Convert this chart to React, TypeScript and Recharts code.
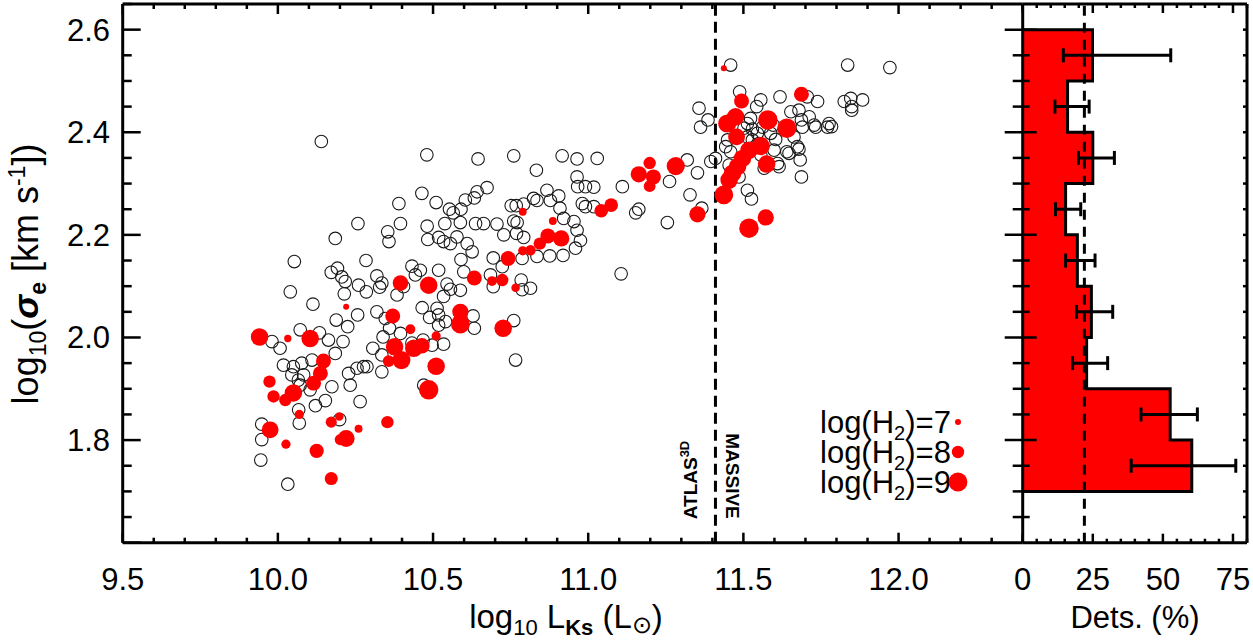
import { Area, ComposedChart, ErrorBar, ReferenceLine, Scatter, ScatterChart, XAxis, YAxis } from "recharts";

const W = 1253;
const H = 642;
// plot edges in px
const TOP = 4;
const BOTTOM = 542.7;
const LEFT = 122.7;
const SPLIT = 1022.7;
const RIGHT = 1247;
const X_AXIS_H = 60;
const Y_AXIS_W = 110;
const HY_W = 10;

const FONT = "'Liberation Sans', Arial, sans-serif";
const INK = "#000";
const RED = "#ff0000";

// log10 L_Ks, log10 sigma_e for galaxies without CO detection
const NONDET: [number, number][] = [
  [10.14, 2.382], [10.48, 2.356], [10.645, 2.348], [10.39, 2.261], [10.464, 2.281], [10.51, 2.263],
  [10.553, 2.25], [10.565, 2.243], [10.59, 2.25], [10.604, 2.268], [10.633, 2.272], [10.642, 2.284],
  [10.674, 2.292], [10.258, 2.222], [10.395, 2.222], [10.481, 2.217], [10.538, 2.222], [10.588, 2.224],
  [10.637, 2.222], [10.354, 2.206], [10.358, 2.187], [10.185, 2.193], [10.483, 2.191], [10.518, 2.195],
  [10.534, 2.187], [10.556, 2.183], [10.577, 2.196], [10.61, 2.183], [10.626, 2.167], [10.59, 2.152],
  [10.599, 2.128], [10.053, 2.148], [10.284, 2.15], [10.172, 2.127], [10.192, 2.135], [10.206, 2.118],
  [10.217, 2.109], [10.26, 2.102], [10.285, 2.089], [10.319, 2.12], [10.328, 2.098], [10.335, 2.106],
  [10.432, 2.139], [10.459, 2.131], [10.443, 2.122], [10.518, 2.131], [10.545, 2.104], [10.556, 2.094],
  [10.384, 2.083], [10.405, 2.099], [10.534, 2.08], [10.588, 2.092], [10.04, 2.089], [10.214, 2.085],
  [10.113, 2.065], [10.465, 2.058], [10.513, 2.057], [10.319, 2.05], [10.257, 2.044], [10.188, 2.034],
  [10.225, 2.021], [10.346, 2.037], [10.36, 2.018], [10.395, 2.008], [10.489, 2.039], [10.518, 2.044],
  [10.518, 2.024], [10.54, 2.031], [10.629, 2.042], [10.633, 2.018], [10.072, 2.015], [10.134, 2.009],
  [10.163, 1.995], [10.007, 1.979], [9.981, 1.992], [10.21, 1.992], [10.306, 1.979], [10.339, 2.001],
  [10.335, 1.966], [10.432, 1.989], [10.468, 1.995], [10.497, 1.985], [10.534, 1.987], [10.185, 1.969],
  [10.018, 1.946], [10.05, 1.943], [10.077, 1.95], [10.11, 1.956], [10.045, 1.927], [10.066, 1.917],
  [10.083, 1.927], [10.072, 1.907], [10.174, 1.904], [10.228, 1.93], [10.255, 1.94], [10.276, 1.943],
  [10.287, 1.943], [10.335, 1.933], [10.233, 1.907], [10.104, 1.898], [10.265, 1.875], [10.47, 1.907],
  [10.121, 1.867], [10.153, 1.877], [10.067, 1.859], [10.069, 1.833], [9.948, 1.831], [9.948, 1.801],
  [9.945, 1.761], [10.032, 1.714], [10.199, 1.84],
  [11.357, 2.447], [11.386, 2.424], [11.362, 2.41], [11.395, 2.343], [11.319, 2.346], [11.352, 2.321],
  [11.262, 2.304], [11.328, 2.278], [11.366, 2.252], [11.255, 2.224], [11.163, 2.25], [11.153, 2.243],
  [11.11, 2.294], [11.106, 2.124], [10.76, 2.354], [10.833, 2.326], [10.916, 2.354], [10.964, 2.348],
  [11.029, 2.349], [10.964, 2.313], [10.966, 2.294], [10.991, 2.294], [11.018, 2.293], [10.867, 2.287],
  [10.824, 2.271], [10.835, 2.267], [10.905, 2.276], [10.878, 2.267], [10.752, 2.257], [10.768, 2.257],
  [10.792, 2.26], [10.909, 2.252], [10.981, 2.261], [10.991, 2.255], [11.018, 2.255], [10.76, 2.227],
  [10.771, 2.224], [10.921, 2.232], [10.954, 2.226], [10.663, 2.222], [10.706, 2.221], [10.728, 2.2],
  [10.769, 2.203], [10.792, 2.195], [10.964, 2.209], [10.975, 2.189], [10.959, 2.174], [10.835, 2.158],
  [10.876, 2.159], [10.919, 2.16], [10.787, 2.154], [10.694, 2.155], [10.723, 2.138], [10.685, 2.122],
  [10.694, 2.099], [10.784, 2.112], [10.787, 2.093], [10.814, 2.096], [10.76, 2.033], [10.766, 1.956],
  [11.459, 2.531], [11.836, 2.531], [11.972, 2.526], [11.488, 2.479], [11.618, 2.469], [11.556, 2.463],
  [11.543, 2.45], [11.706, 2.469], [11.739, 2.46], [11.825, 2.46], [11.846, 2.466], [11.884, 2.463],
  [11.849, 2.45], [11.849, 2.443], [11.523, 2.427], [11.513, 2.417], [11.502, 2.408], [11.529, 2.406],
  [11.545, 2.398], [11.653, 2.44], [11.679, 2.443], [11.712, 2.43], [11.687, 2.424], [11.728, 2.414],
  [11.733, 2.41], [11.776, 2.417], [11.771, 2.41], [11.784, 2.411], [11.69, 2.41], [11.663, 2.391],
  [11.674, 2.372], [11.64, 2.362], [11.647, 2.359], [11.679, 2.367], [11.683, 2.346], [11.687, 2.313],
  [11.513, 2.287], [11.526, 2.27], [11.61, 2.339], [11.615, 2.333], [11.599, 2.365], [11.567, 2.33],
  [11.556, 2.356], [11.449, 2.385], [11.443, 2.372], [11.459, 2.362], [11.454, 2.336], [11.47, 2.32],
  [11.486, 2.313], [11.41, 2.349], [11.513, 2.391], [11.529, 2.385], [11.562, 2.41], [11.588, 2.398],
  [11.604, 2.386], [11.55, 2.378], [11.596, 2.414],
];

// log10 L_Ks, log10 sigma_e, log10 M(H2) for CO detections
const DET: [number, number, number][] = [
  [9.941, 2.001, 8.8], [10.032, 1.998, 7.2], [10.104, 1.998, 8.8], [10.22, 2.06, 7.0],
  [10.395, 2.106, 8.5], [10.486, 2.102, 8.8], [10.633, 2.116, 8.4], [10.37, 2.042, 8.4],
  [10.427, 2.016, 7.6], [10.51, 2.003, 7.5], [10.588, 2.05, 8.6], [10.588, 2.026, 9.0],
  [10.376, 1.982, 8.8], [10.438, 1.979, 8.8], [10.464, 1.984, 8.5], [10.398, 1.956, 8.9],
  [10.357, 1.954, 7.9], [10.51, 1.944, 8.8], [10.486, 1.898, 9.1], [10.147, 1.954, 8.4],
  [10.137, 1.93, 8.4], [10.115, 1.911, 8.4], [9.973, 1.914, 8.0], [10.05, 1.892, 8.8],
  [9.986, 1.885, 8.0], [10.024, 1.878, 8.0], [10.069, 1.85, 7.5], [9.975, 1.82, 8.7],
  [10.172, 1.835, 7.8], [10.198, 1.846, 7.4], [10.22, 1.803, 8.7], [10.201, 1.801, 7.8],
  [10.26, 1.822, 7.3], [10.353, 1.835, 8.0], [10.026, 1.792, 7.5], [10.125, 1.779, 8.3],
  [10.172, 1.725, 8.1],
  [11.437, 2.525, 7.0], [11.198, 2.34, 8.0], [11.163, 2.318, 8.6], [11.21, 2.313, 8.4],
  [11.198, 2.295, 7.9], [11.282, 2.334, 8.9], [11.352, 2.24, 8.6], [11.074, 2.258, 8.2],
  [11.042, 2.247, 8.2], [10.789, 2.245, 7.3], [10.886, 2.227, 7.3], [10.87, 2.198, 8.4],
  [10.913, 2.193, 8.6], [10.844, 2.183, 8.0], [10.814, 2.17, 7.7], [10.789, 2.169, 7.5],
  [10.742, 2.154, 8.4], [10.69, 2.11, 7.6], [10.723, 2.112, 8.0], [10.766, 2.097, 7.4],
  [10.726, 2.018, 8.8],
  [11.494, 2.461, 8.4], [11.687, 2.474, 8.4], [11.448, 2.417, 8.9], [11.475, 2.43, 8.8],
  [11.478, 2.391, 8.7], [11.579, 2.424, 9.1], [11.64, 2.408, 9.1], [11.556, 2.373, 8.9],
  [11.518, 2.365, 8.8], [11.497, 2.349, 8.8], [11.481, 2.333, 8.8], [11.465, 2.32, 8.8],
  [11.454, 2.307, 8.8], [11.575, 2.338, 8.8], [11.437, 2.278, 9.0], [11.518, 2.213, 9.1],
  [11.572, 2.234, 8.6],
];

const LEGEND_H2 = [7, 8, 9];
const SAMPLE_SPLIT = 11.41; // ATLAS3D / MASSIVE boundary in log L_Ks

// detection-rate histogram in sigma bins
const BIN_EDGES = [1.7, 1.8, 1.9, 2.0, 2.1, 2.2, 2.3, 2.4, 2.5, 2.6];
const BIN_PCT = [60.3, 52.6, 22.8, 24.5, 19.5, 15.3, 25.0, 16.0, 24.9];
const BIN_LO = [38.7, 42.2, 17.8, 19.2, 15.3, 11.7, 19.9, 11.5, 14.5];
const BIN_HI = [76.0, 62.3, 30.3, 32.1, 25.8, 20.7, 32.7, 23.7, 52.8];
const MEAN_RATE = 22;

const MAIN_X_LABELS = [9.5, 10, 10.5, 11, 11.5, 12];
const Y_LABELS = [1.8, 2.0, 2.2, 2.4, 2.6];
const Y_MAJOR = [1.6, ...Y_LABELS];
const HIST_X_LABELS = [0, 25, 50, 75];

const steps = (lo: number, hi: number, step: number) =>
  Array.from({ length: Math.round((hi - lo) / step) + 1 }, (_, i) => +(lo + i * step).toFixed(3));
const has = (list: number[], v: number) => list.some((l) => Math.abs(l - v) < 1e-6);

const MAIN_X_TICKS = steps(9.5, 12.4, 0.1);
const Y_TICKS = steps(1.6, 2.65, 0.05);
const HIST_X_TICKS = steps(0, 80, 5);

const nondetRows = NONDET.map(([x, y]) => ({ x, y }));
const detRows = DET.map(([x, y, h2]) => ({ x, y, h2 }));

// stepAfter: each row closes the bin that ends at its edge
const stepRows = [
  { sigma: BIN_EDGES[0], pct: 0 },
  ...BIN_PCT.map((pct, i) => ({ sigma: BIN_EDGES[i + 1], pct })),
  { sigma: BIN_EDGES[BIN_EDGES.length - 1], pct: 0 },
];
const errRows = BIN_PCT.map((pct, i) => ({
  sigma: +((BIN_EDGES[i] + BIN_EDGES[i + 1]) / 2).toFixed(3),
  pct,
  err: [pct - BIN_LO[i], BIN_HI[i] - pct],
}));

const dotRadius = (h2: number) => 3 + (h2 - 7) * 3.2;

function MainXTick({ payload }: any) {
  const x = payload.coordinate;
  const v = payload.value;
  const major = has(MAIN_X_LABELS, v);
  const len = major ? 10 : 5;
  return (
    <g>
      <line x1={x} x2={x} y1={BOTTOM} y2={BOTTOM - len} stroke={INK} strokeWidth={2.5} />
      <line x1={x} x2={x} y1={TOP} y2={TOP + len} stroke={INK} strokeWidth={2.5} />
      {major && (
        <text x={x} y={590} textAnchor="middle" fontSize={31} fontFamily={FONT} fill={INK}>
          {v.toFixed(1)}
        </text>
      )}
    </g>
  );
}

function MainYTick({ payload }: any) {
  const y = payload.coordinate;
  const v = payload.value;
  const len = has(Y_MAJOR, v) ? 18 : 9;
  return (
    <g>
      <line x1={LEFT} x2={LEFT + len} y1={y} y2={y} stroke={INK} strokeWidth={2.5} />
      {has(Y_LABELS, v) && (
        <text x={110} y={y + 11} textAnchor="end" fontSize={31} fontFamily={FONT} fill={INK}>
          {v.toFixed(1)}
        </text>
      )}
    </g>
  );
}

function HistXTick({ payload }: any) {
  const x = payload.coordinate;
  const v = payload.value;
  const major = has(HIST_X_LABELS, v);
  const len = major ? 9 : 4;
  return (
    <g>
      <line x1={x} x2={x} y1={BOTTOM} y2={BOTTOM - len} stroke={INK} strokeWidth={2.5} />
      <line x1={x} x2={x} y1={TOP} y2={TOP + len} stroke={INK} strokeWidth={2.5} />
      {major && (
        <text x={x} y={590} textAnchor="middle" fontSize={31} fontFamily={FONT} fill={INK}>
          {v}
        </text>
      )}
    </g>
  );
}

// ticks cross the shared axis between the two panels
function HistYTick({ payload }: any) {
  const y = payload.coordinate;
  const v = payload.value;
  if (v < 1.61 || v > 2.64) return <g />;
  const major = has(Y_MAJOR, v);
  return (
    <g>
      <line x1={SPLIT - (major ? 18 : 10)} x2={SPLIT + (major ? 14 : 7)} y1={y} y2={y} stroke={INK} strokeWidth={2.5} />
      <line x1={RIGHT - 4} x2={RIGHT} y1={y} y2={y} stroke={INK} strokeWidth={2.5} />
    </g>
  );
}

const xTitle = () => (
  <text x={566} y={628} textAnchor="middle" fontSize={33} fontFamily={FONT} fill={INK}>
    log<tspan dy={7} fontSize={22}>10</tspan>
    <tspan dy={-7}> L</tspan>
    <tspan dy={7} fontSize={22} fontWeight="bold">Ks</tspan>
    <tspan dy={-7}> (L</tspan>
    <tspan dy={5} fontSize={24}>⊙</tspan>
    <tspan dy={-5}>)</tspan>
  </text>
);

const yTitle = () => (
  <text transform="translate(38, 274) rotate(-90)" textAnchor="middle" fontSize={36} fontFamily={FONT} fill={INK}>
    log<tspan dy={8} fontSize={23}>10</tspan>
    <tspan dy={-8}>(</tspan>
    <tspan fontWeight="bold" fontStyle="italic">σ</tspan>
    <tspan dy={8} fontSize={23} fontWeight="bold">e</tspan>
    <tspan dy={-8}> [km s</tspan>
    <tspan dy={-13} fontSize={23}>-1</tspan>
    <tspan dy={13}>])</tspan>
  </text>
);

const histTitle = () => (
  <text x={1135} y={628} textAnchor="middle" fontSize={31} fontFamily={FONT} fill={INK}>
    Dets. (%)
  </text>
);

const sampleLabels = (props: any) => {
  const x = props.viewBox.x;
  return (
    <g fontFamily={FONT} fontWeight="bold" fontSize={19} fill={INK}>
      <text transform={`translate(${x - 18}, 480) rotate(-90)`} textAnchor="middle">
        ATLAS<tspan dy={-8} fontSize={13}>3D</tspan>
      </text>
      <text transform={`translate(${x + 11}, 476) rotate(90)`} textAnchor="middle">
        MASSIVE
      </text>
    </g>
  );
};

const frame = { stroke: INK, strokeWidth: 3 };

export default function App() {
  return (
    <div style={{ position: "absolute", left: 0, top: 0, width: W, height: H, background: "#fff", overflow: "hidden" }}>
      <ScatterChart
        width={W}
        height={H}
        margin={{ top: TOP, right: W - SPLIT, bottom: H - BOTTOM - X_AXIS_H, left: LEFT - Y_AXIS_W }}
        style={{ position: "absolute", left: 0, top: 0 }}
      >
        <XAxis type="number" dataKey="x" domain={[9.5, 12.4]} allowDataOverflow ticks={MAIN_X_TICKS} interval={0}
          tick={<MainXTick />} tickLine={false} axisLine={frame} height={X_AXIS_H} label={xTitle} />
        <YAxis type="number" dataKey="y" domain={[1.6, 2.65]} allowDataOverflow ticks={Y_TICKS} interval={0}
          tick={<MainYTick />} tickLine={false} axisLine={frame} width={Y_AXIS_W} label={yTitle} />
        <ReferenceLine y={2.65} stroke={INK} strokeWidth={3} ifOverflow="visible" />
        <ReferenceLine x={SAMPLE_SPLIT} stroke={INK} strokeWidth={3} strokeDasharray="11 6" label={sampleLabels} />
        <Scatter
          data={nondetRows}
          isAnimationActive={false}
          shape={(p: any) => <circle cx={p.cx} cy={p.cy} r={6.3} fill="none" stroke="#1a1a1a" strokeWidth={1.1} />}
        />
        <Scatter
          data={detRows}
          isAnimationActive={false}
          shape={(p: any) => <circle cx={p.cx} cy={p.cy} r={dotRadius(p.payload.h2)} fill={RED} />}
        />
      </ScatterChart>

      <ComposedChart
        layout="vertical"
        width={W}
        height={H}
        data={stepRows}
        margin={{ top: TOP, right: W - RIGHT, bottom: H - BOTTOM - X_AXIS_H, left: SPLIT - HY_W }}
        style={{ position: "absolute", left: 0, top: 0 }}
      >
        <XAxis type="number" dataKey="pct" domain={[0, 80]} allowDataOverflow ticks={HIST_X_TICKS} interval={0}
          tick={<HistXTick />} tickLine={false} axisLine={frame} height={X_AXIS_H} label={histTitle} />
        {/* vertical layout puts low values on top; flip so sigma grows upward like the left panel */}
        <YAxis type="number" dataKey="sigma" domain={[1.6, 2.65]} allowDataOverflow reversed ticks={Y_TICKS} interval={0}
          tick={<HistYTick />} tickLine={false} axisLine={frame} width={HY_W} />
        <Area type="stepAfter" dataKey="pct" fill={RED} fillOpacity={1} stroke={INK} strokeWidth={3} isAnimationActive={false} />
        <ReferenceLine x={MEAN_RATE} stroke={INK} strokeWidth={3} strokeDasharray="10 7" />
        <ReferenceLine y={2.65} stroke={INK} strokeWidth={3} ifOverflow="visible" />
        <ReferenceLine x={80} stroke={INK} strokeWidth={3} ifOverflow="visible" />
        <Scatter data={errRows} dataKey="pct" isAnimationActive={false} shape={() => <g />}>
          <ErrorBar dataKey="err" direction="x" width={7} stroke={INK} strokeWidth={3} />
        </Scatter>
      </ComposedChart>

      <svg width={W} height={H} style={{ position: "absolute", left: 0, top: 0, pointerEvents: "none" }}>
        {LEGEND_H2.map((h2, i) => (
          <g key={h2}>
            <text x={820} y={433 + i * 30} fontSize={31} fontFamily={FONT} fill={INK}>
              log(H<tspan dy={7} fontSize={20}>2</tspan>
              <tspan dy={-7}>)={h2}</tspan>
            </text>
            <circle cx={958} cy={422 + i * 30} r={dotRadius(h2)} fill={RED} />
          </g>
        ))}
      </svg>
    </div>
  );
}
